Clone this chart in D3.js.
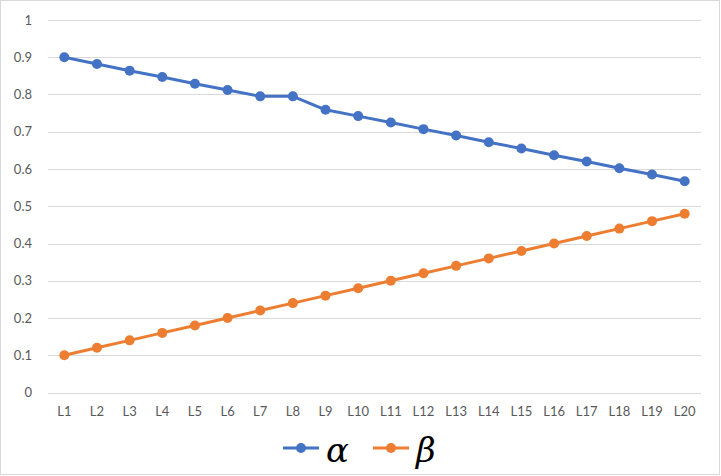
<!DOCTYPE html>
<html>
<head>
<meta charset="utf-8">
<script src="https://cdn.jsdelivr.net/npm/d3@7"></script>
<style>
  html, body { margin: 0; padding: 0; background: #fff; }
  svg text { font-family: Lato, "Open Sans", sans-serif; }
</style>
</head>
<body>
<div class="container"></div>
<script>
// chart data
const categories = ["L1","L2","L3","L4","L5","L6","L7","L8","L9","L10",
                    "L11","L12","L13","L14","L15","L16","L17","L18","L19","L20"]
const alphaValues = [0.9, 0.882, 0.864, 0.847, 0.829, 0.812, 0.795, 0.795, 0.759, 0.742,
                     0.725, 0.707, 0.69, 0.672, 0.655, 0.637, 0.62, 0.602, 0.585, 0.567]
const betaValues = [0.1, 0.12, 0.14, 0.16, 0.18, 0.2, 0.22, 0.24, 0.26, 0.28,
                    0.3, 0.32, 0.34, 0.36, 0.38, 0.4, 0.42, 0.44, 0.46, 0.48]
const yTicks = [0, 0.1, 0.2, 0.3, 0.4, 0.5, 0.6, 0.7, 0.8, 0.9, 1]
const seriesNames = ["α", "β"]
const seriesColors = ["#4472C4", "#ED7D31"]

const width = 721, height = 476
const margin = {top: 20, right: 20, bottom: 83.5, left: 48}

const svg = d3.select("div.container").append("svg")
    .attr("width", width)
    .attr("height", height)

// outer frame
svg.append("rect")
    .attr("x", 0.5).attr("y", 0.5)
    .attr("width", 719).attr("height", 474)
    .attr("fill", "#fff")
    .attr("stroke", "#d9d9d9")

const x = d3.scaleBand()
    .domain(categories)
    .range([margin.left, width - margin.right])

const y = d3.scaleLinear()
    .domain([0, 1])
    .range([height - margin.bottom, margin.top])

// gridlines
svg.append("g")
    .selectAll("line")
    .data(yTicks)
    .enter().append("line")
    .attr("x1", margin.left)
    .attr("x2", width - margin.right)
    .attr("y1", d => Math.round(y(d)) + 0.5)
    .attr("y2", d => Math.round(y(d)) + 0.5)
    .attr("stroke", "#d9d9d9")
    .attr("stroke-width", 1)

// y axis labels
const yAxis = svg.append("g")
    .attr("transform", "translate(" + (margin.left - 16) + ",0)")
    .call(d3.axisLeft(y).tickValues(yTicks).tickSize(0).tickPadding(0)
        .tickFormat(d3.format("~g")))
yAxis.select(".domain").remove()
yAxis.selectAll("text")
    .attr("fill", "#595959")
    .style("font-size", "13px")

// x axis labels
const xAxis = svg.append("g")
    .attr("transform", "translate(0," + (y(0) + 14) + ")")
    .call(d3.axisBottom(x).tickSize(0).tickPadding(0))
xAxis.select(".domain").remove()
xAxis.selectAll("text")
    .attr("fill", "#595959")
    .style("font-size", "13px")

// series lines + markers
const line = d3.line()
    .x((d, i) => x(categories[i]) + x.bandwidth() / 2)
    .y(d => y(d))

const allSeries = [alphaValues, betaValues]

allSeries.forEach((values, s) => {
    svg.append("path")
        .datum(values)
        .attr("d", line)
        .attr("fill", "none")
        .attr("stroke", seriesColors[s])
        .attr("stroke-width", 3)
        .attr("stroke-linejoin", "round")

    svg.append("g")
        .selectAll("circle")
        .data(values)
        .enter().append("circle")
        .attr("cx", (d, i) => x(categories[i]) + x.bandwidth() / 2)
        .attr("cy", d => y(d))
        .attr("r", 5)
        .attr("fill", seriesColors[s])
})

// legend
const legendItems = [
    {name: seriesNames[0], color: seriesColors[0], x: 283},
    {name: seriesNames[1], color: seriesColors[1], x: 373}
]
const legendY = 448

const legend = svg.append("g")
legendItems.forEach(item => {
    legend.append("line")
        .attr("x1", item.x).attr("x2", item.x + 36)
        .attr("y1", legendY).attr("y2", legendY)
        .attr("stroke", item.color)
        .attr("stroke-width", 3)
    legend.append("circle")
        .attr("cx", item.x + 18).attr("cy", legendY)
        .attr("r", 5)
        .attr("fill", item.color)
    legend.append("text")
        .attr("x", item.x + 43)
        .attr("y", legendY + 14)
        .style("font-family", "'DejaVu Serif', 'Liberation Serif', serif")
        .style("font-style", "italic")
        .style("font-size", "34px")
        .attr("fill", "#000")
        .text(item.name)
})
</script>
</body>
</html>
